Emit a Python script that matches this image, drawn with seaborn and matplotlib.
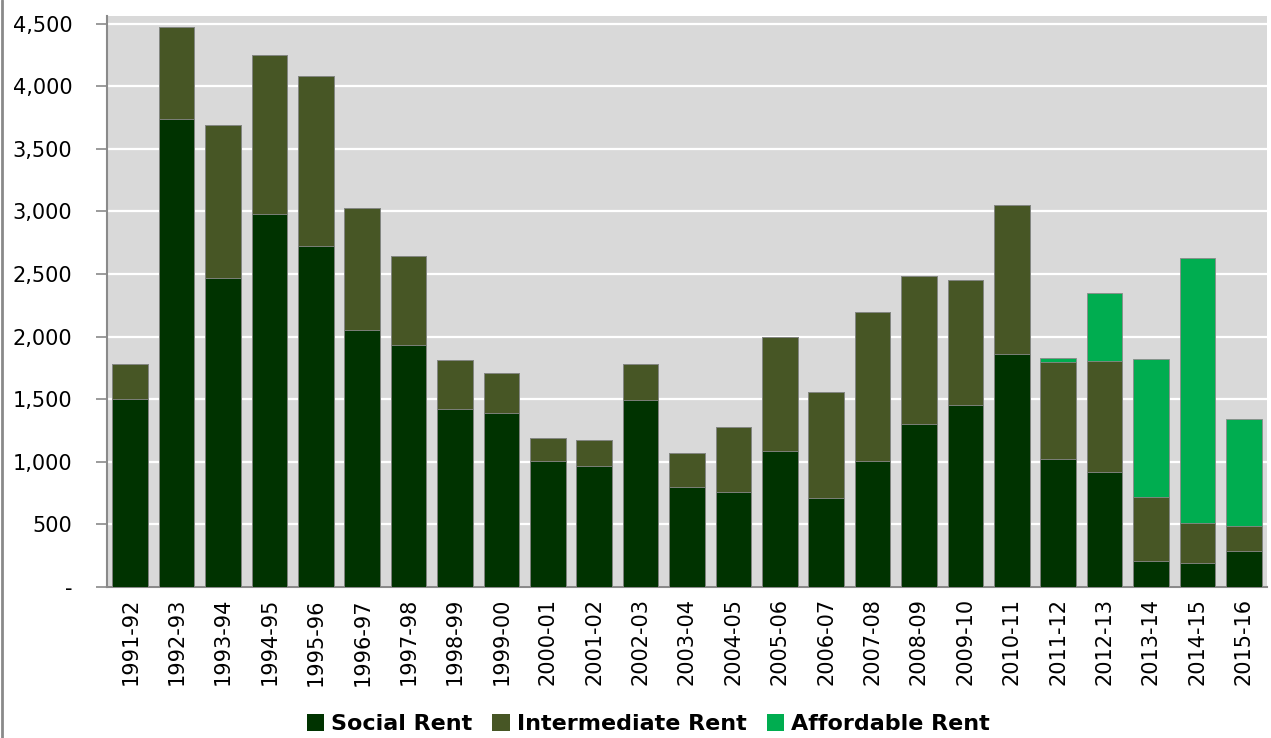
import matplotlib
matplotlib.use("Agg")
import matplotlib.pyplot as plt
from matplotlib.lines import Line2D
from matplotlib.patches import Patch
from matplotlib.ticker import FuncFormatter, FixedLocator
import seaborn as sns
import pandas as pd
import numpy as np

years = ["1991-92", "1992-93", "1993-94", "1994-95", "1995-96", "1996-97", "1997-98",
         "1998-99", "1999-00", "2000-01", "2001-02", "2002-03", "2003-04", "2004-05",
         "2005-06", "2006-07", "2007-08", "2008-09", "2009-10", "2010-11", "2011-12",
         "2012-13", "2013-14", "2014-15", "2015-16"]
social = [1500, 3740, 2470, 2980, 2720, 2050, 1935, 1420, 1390, 1005, 965, 1490, 800,
          760, 1085, 710, 1005, 1300, 1455, 1860, 1020, 915, 205, 190, 285]
intermediate = [280, 730, 1220, 1270, 1360, 980, 705, 390, 320, 185, 205, 290, 270,
                520, 915, 850, 1195, 1180, 995, 1190, 780, 890, 510, 325, 205]
affordable = [0, 0, 0, 0, 0, 0, 0, 0, 0, 0, 0, 0, 0, 0, 0, 0, 0, 0, 0, 0, 25, 545,
              1105, 2115, 850]

series_names = ["Social Rent", "Intermediate Rent", "Affordable Rent"]
colors = ["#003300", "#475625", "#00AD50"]

s = np.array(social)
i_ = np.array(intermediate)
a = np.array(affordable)
df = pd.DataFrame({
    "year": years,
    "social": s,
    "social_inter": s + i_,
    "total": s + i_ + a,
})

sns.set_theme(style="white")
plt.rcParams["font.family"] = ["DejaVu Sans"]
plt.rcParams["text.color"] = "black"

fig = plt.figure(figsize=(12.71, 7.38), dpi=100)
ax = fig.add_axes([107 / 1271, 1 - 587 / 738, (1267 - 107) / 1271, (587 - 16) / 738])
ax.set_facecolor("#D9D9D9")

edge = "#8a8a8a"
for col, c in zip(["total", "social_inter", "social"], colors[::-1]):
    sns.barplot(data=df, x="year", y=col, color=c, saturation=1, width=0.77,
                edgecolor=edge, linewidth=0.6, ax=ax, zorder=3)

ax.set_ylim(0, 4560)
ax.set_xlim(-0.5, len(years) - 0.5)
ax.set_yticks(np.arange(0, 4501, 500))
ax.yaxis.set_major_formatter(FuncFormatter(lambda v, p: "-" if v == 0 else f"{v:,.0f}"))
ax.grid(axis="y", color="white", linewidth=1.6, zorder=0)
ax.set_axisbelow(True)

ax.set_xlabel("")
ax.set_ylabel("")
ax.set_xticks(range(len(years)))
ax.set_xticklabels(years, rotation=90, fontsize=15, color="black")
ax.tick_params(axis="x", which="major", length=0, pad=8)
ax.xaxis.set_minor_locator(FixedLocator(np.arange(-0.5, len(years), 1.0)))
ax.tick_params(axis="x", which="minor", length=8, width=1.2, color=edge, direction="out")
ax.tick_params(axis="y", labelsize=15, labelcolor="black", length=8, width=1.2,
               color=edge, direction="out", left=True, pad=17)

for sp in ["top", "right"]:
    ax.spines[sp].set_visible(False)
for sp in ["left", "bottom"]:
    ax.spines[sp].set_color(edge)
    ax.spines[sp].set_linewidth(1.5)

handles = [Patch(facecolor=c, edgecolor="none") for c in colors]
leg = fig.legend(handles, series_names, loc="lower center", bbox_to_anchor=(0.51, -0.022),
                 ncol=3, frameon=False, prop={"weight": "bold", "size": 16},
                 handlelength=0.8, handleheight=0.8, handletextpad=0.3, columnspacing=0.9)
for t in leg.get_texts():
    t.set_color("black")

fig.add_artist(Line2D([0.0015, 0.0015], [0, 1], transform=fig.transFigure,
                      color="#8a8a8a", linewidth=2))

fig.savefig("out.png", dpi=100)
